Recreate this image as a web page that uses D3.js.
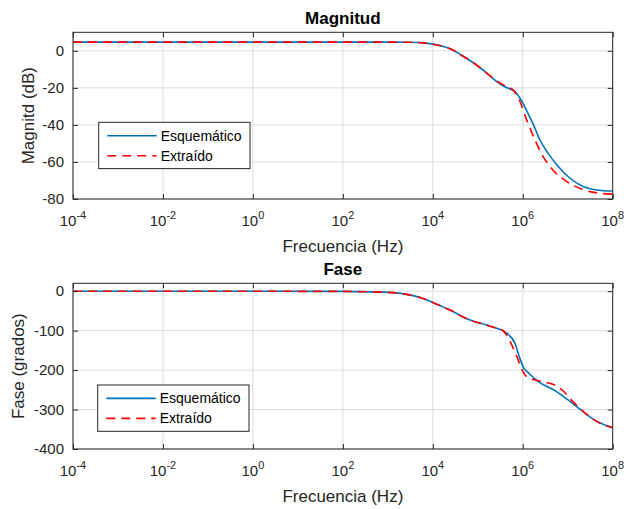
<!DOCTYPE html>
<html lang="es">
<head>
<meta charset="UTF-8">
<title>Magnitud y Fase</title>
<script src="https://d3js.org/d3.v7.min.js"></script>
<style>
  body { margin: 0; background: #fff; }
  svg text { font-family: "Liberation Sans", Arial, sans-serif; fill: #262626; }
  .grid line { stroke: #dcdcdc; stroke-width: 1; }
  .ticks path { display: none; }
  .ticks line { stroke: #262626; }
</style>
</head>
<body>
<svg width="627" height="509"></svg>
<script>
// frequency given as log10(Hz)
const magEsqExp = [-4, 3, 3.5, 3.8, 4.0, 4.2, 4.4, 4.6, 4.8, 5.0, 5.2, 5.4, 5.6, 5.83, 5.95, 6.05, 6.15, 6.24, 6.38, 6.57, 6.79, 7.05, 7.34, 7.64, 8.0];
const magEsqDb  = [4.7, 4.7, 4.6, 4.3, 3.6, 2.6, 1.0, -1.8, -4.8, -8.2, -12.0, -16.2, -19.4, -22.1, -26, -30.5, -35.5, -40, -48, -55.5, -62.5, -68.8, -73.2, -75.1, -75.7];

const magExtExp = [-4, 3, 3.5, 3.8, 4.0, 4.2, 4.4, 4.6, 4.8, 5.0, 5.2, 5.4, 5.6, 5.8, 5.94, 6.09, 6.27, 6.45, 6.67, 6.98, 7.35, 7.72, 8.0];
const magExtDb  = [4.7, 4.7, 4.6, 4.3, 3.6, 2.6, 1.0, -1.8, -4.8, -8.2, -12.0, -16.0, -18.8, -21.5, -27.5, -37.4, -48, -57, -64.3, -70.6, -75, -76.9, -77.4];

const faseEsqExp = [-4, 2, 2.5, 3.0, 3.42, 3.72, 4.0, 4.25, 4.46, 4.68, 4.9, 5.2, 5.42, 5.61, 5.83, 5.92, 6.03, 6.09, 6.31, 6.76, 7.0, 7.27, 7.57, 7.8, 8.0];
const faseEsqDeg = [0, -0.5, -1.5, -3, -8, -16, -28.5, -41, -52, -66, -76, -86, -94, -103.5, -133, -165, -196, -203, -226, -255, -275, -299, -325, -338, -346];

const faseExtExp = [-4, 2, 2.5, 3.0, 3.42, 3.72, 4.0, 4.25, 4.46, 4.68, 4.9, 5.2, 5.42, 5.55, 5.64, 5.75, 5.87, 5.98, 6.09, 6.31, 6.55, 6.72, 6.9, 7.1, 7.35, 7.64, 8.0];
const faseExtDeg = [0, -0.5, -1.5, -3, -8, -16, -28.5, -41, -52, -66, -76, -86, -94, -99, -111, -135, -166, -198, -217, -226, -232, -238, -253, -278, -305, -330, -346];

const xTickExp = [-4, -2, 0, 2, 4, 6, 8];
const magTicks = [-80, -60, -40, -20, 0];
const faseTicks = [-400, -300, -200, -100, 0];
const seriesNames = ["Esquemático", "Extraído"];

const svg = d3.select("svg");
const left = 73, right = 612.7;

const x = d3.scaleLog().domain([1e-4, 1e8]).range([left, right]);

function panel(cfg) {
  const y = d3.scaleLinear().domain(cfg.yDomain).range([cfg.bottom, cfg.top]);
  const g = svg.append("g");

  // grid
  const grid = g.append("g").attr("class", "grid");
  grid.selectAll(".gx").data(xTickExp).join("line")
    .attr("x1", d => x(Math.pow(10, d))).attr("x2", d => x(Math.pow(10, d)))
    .attr("y1", cfg.top).attr("y2", cfg.bottom);
  grid.selectAll(".gy").data(cfg.yTicks).join("line")
    .attr("x1", left).attr("x2", right)
    .attr("y1", d => y(d)).attr("y2", d => y(d));

  // curves
  const clipId = "clip" + cfg.top;
  g.append("clipPath").attr("id", clipId).append("rect")
    .attr("x", left).attr("y", cfg.top).attr("width", right - left).attr("height", cfg.bottom - cfg.top);

  const line = d3.line()
    .x(d => x(Math.pow(10, d[0])))
    .y(d => y(d[1]))
    .curve(d3.curveMonotoneX);

  cfg.series.forEach(s => {
    g.append("path")
      .attr("clip-path", `url(#${clipId})`)
      .attr("d", line(d3.zip(s.exp, s.vals)))
      .attr("fill", "none")
      .attr("stroke", s.color)
      .attr("stroke-width", 1.6)
      .attr("stroke-dasharray", s.dash);
  });

  // inward ticks on all four sides
  const tv = xTickExp.map(e => Math.pow(10, e));
  g.append("g").attr("class", "ticks").attr("transform", `translate(0,${cfg.bottom})`)
    .call(d3.axisBottom(x).tickValues(tv).tickSize(-5).tickFormat(""));
  g.append("g").attr("class", "ticks").attr("transform", `translate(0,${cfg.top})`)
    .call(d3.axisTop(x).tickValues(tv).tickSize(-5).tickFormat(""));
  g.append("g").attr("class", "ticks").attr("transform", `translate(${left},0)`)
    .call(d3.axisLeft(y).tickValues(cfg.yTicks).tickSize(-5).tickFormat(""));
  g.append("g").attr("class", "ticks").attr("transform", `translate(${right},0)`)
    .call(d3.axisRight(y).tickValues(cfg.yTicks).tickSize(-5).tickFormat(""));

  g.append("rect")
    .attr("x", left).attr("y", cfg.top)
    .attr("width", right - left).attr("height", cfg.bottom - cfg.top)
    .attr("fill", "none").attr("stroke", "#262626").attr("stroke-width", 1);

  // x tick labels 10^n
  xTickExp.forEach(e => {
    const t = g.append("text")
      .attr("x", x(Math.pow(10, e)))
      .attr("y", cfg.bottom + 27)
      .attr("text-anchor", "middle")
      .style("font-size", "15px");
    t.append("tspan").text("10");
    t.append("tspan").attr("dy", -7.5).style("font-size", "11px").text(e < 0 ? "-" + (-e) : e);
  });

  // y tick labels
  g.selectAll(".ylab").data(cfg.yTicks).join("text")
    .attr("x", left - 9)
    .attr("y", d => y(d))
    .attr("dy", "0.35em")
    .attr("text-anchor", "end")
    .style("font-size", "15px")
    .text(d => d);

  // title and axis labels
  g.append("text")
    .attr("x", (left + right) / 2).attr("y", cfg.top - 8.5)
    .attr("text-anchor", "middle")
    .style("font-size", "17px").style("font-weight", "bold")
    .style("fill", "#000")
    .text(cfg.title);
  g.append("text")
    .attr("x", (left + right) / 2).attr("y", cfg.bottom + 53)
    .attr("text-anchor", "middle")
    .style("font-size", "17px")
    .text("Frecuencia (Hz)");
  g.append("text")
    .attr("transform", `translate(${cfg.ylabelX},${(cfg.top + cfg.bottom) / 2}) rotate(-90)`)
    .attr("text-anchor", "middle")
    .style("font-size", "17px")
    .text(cfg.ylabel);

  // legend
  const lg = g.append("g").attr("transform", `translate(${cfg.legend[0]},${cfg.legend[1]})`);
  lg.append("rect")
    .attr("width", 151.3).attr("height", 46.3)
    .attr("fill", "#fff").attr("stroke", "#262626").attr("stroke-width", 1);
  cfg.series.forEach((s, i) => {
    const ry = 13.4 + i * 20;
    lg.append("line")
      .attr("x1", 8.6).attr("x2", 58).attr("y1", ry).attr("y2", ry)
      .attr("stroke", s.color).attr("stroke-width", 1.6)
      .attr("stroke-dasharray", s.dash);
    lg.append("text")
      .attr("x", 62).attr("y", ry).attr("dy", "0.35em")
      .style("font-size", "14px").style("fill", "#000")
      .text(s.name);
  });
}

panel({
  top: 32.3, bottom: 199, yDomain: [-80, 10], yTicks: magTicks,
  title: "Magnitud", ylabel: "Magnitd (dB)", ylabelX: 33.5, legend: [98.7, 122.3],
  series: [
    { exp: magEsqExp, vals: magEsqDb, name: seriesNames[0], color: "#0072BD", dash: null },
    { exp: magExtExp, vals: magExtDb, name: seriesNames[1], color: "#FF0000", dash: "9,6" }
  ]
});

panel({
  top: 283.3, bottom: 449, yDomain: [-400, 20], yTicks: faseTicks,
  title: "Fase", ylabel: "Fase (grados)", ylabelX: 23.5, legend: [97.7, 385],
  series: [
    { exp: faseEsqExp, vals: faseEsqDeg, name: seriesNames[0], color: "#0072BD", dash: null },
    { exp: faseExtExp, vals: faseExtDeg, name: seriesNames[1], color: "#FF0000", dash: "9,6" }
  ]
});
</script>
</body>
</html>
